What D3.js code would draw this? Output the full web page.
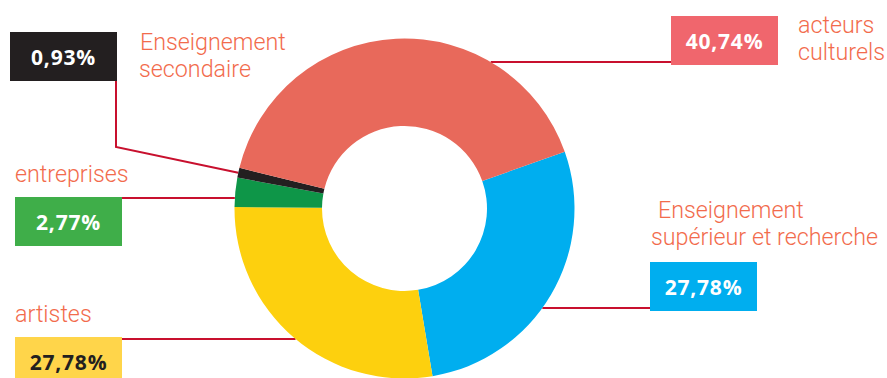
<!DOCTYPE html>
<html>
<head>
<meta charset="utf-8">
<script src="https://cdn.jsdelivr.net/npm/d3@7"></script>
<style>
  body { margin: 0; background: #fff; }
  svg { display: block; }
</style>
</head>
<body>
<div></div>
<script>
// data, clockwise from the red/blue border
var categories = ["Enseignement supérieur et recherche", "artistes", "entreprises", "Enseignement secondaire", "acteurs culturels"];
var values = [27.78, 27.78, 2.77, 0.93, 40.74];
var valueLabels = ["27,78%", "27,78%", "2,77%", "0,93%", "40,74%"];
var labelLines = [["Enseignement", "supérieur et recherche"], ["artistes"], ["entreprises"], ["Enseignement", "secondaire"], ["acteurs", "culturels"]];

var sliceColors = ["#00aeef", "#fdd00e", "#0e9648", "#231f20", "#e8695b"];
var boxColors = ["#00aeef", "#ffd54a", "#3fae49", "#231f20", "#f0666d"];
var boxText = ["#fff", "#231f20", "#fff", "#fff", "#fff"];

var width = 887;
var height = 378;
var cx = 404.5, cy = 208.5;
var outerR = 170, innerR = 82.5;

var svg = d3.select("body").select("div")
  .append("svg")
  .attr("width", width)
  .attr("height", height);

var pie = d3.pie().sort(null).value(function(d) { return d; })
  .startAngle(70.5 * Math.PI / 180)
  .endAngle(70.5 * Math.PI / 180 + 2 * Math.PI);
var arcs = pie(values);
var arc = d3.arc().innerRadius(innerR).outerRadius(outerR);

// where a horizontal line at y meets the outer ring
function edgeX(y, side) {
  var dy = y - cy;
  return cx + side * Math.sqrt(outerR * outerR - dy * dy);
}
function edgePoint(a) {
  var m = (a.startAngle + a.endAngle) / 2;
  return [cx + outerR * Math.sin(m), cy - outerR * Math.cos(m)];
}

// layout of boxes / labels (box x,y ; label x, first baseline ; line y)
var layout = [
  { bx: 650, by: 262, lx: [658, 651], ly: 218, line: 308, side: 1 },
  { bx: 15, by: 337, lx: [15], ly: 322, line: 339, side: -1 },
  { bx: 15, by: 197, lx: [15], ly: 182, line: 198, side: -1 },
  { bx: 10, by: 32, lx: [140, 139], ly: 50, line: null, side: -1 },
  { bx: 671, by: 16, lx: [798, 798], ly: 33, line: 62, side: 1 }
];
var boxW = 107, boxH = 49;

var lines = svg.append("g")
  .attr("fill", "none")
  .attr("stroke", "#c8102e")
  .attr("stroke-width", 2);

arcs.forEach(function(a, i) {
  var l = layout[i];
  if (l.line !== null) {
    var x0 = edgeX(l.line, l.side);
    var x1 = l.side > 0 ? l.bx : l.bx + boxW;
    lines.append("line")
      .attr("x1", x0).attr("y1", l.line)
      .attr("x2", x1).attr("y2", l.line);
  } else {
    var p = edgePoint(a);
    var bxm = l.bx + boxW - 1;
    lines.append("polyline")
      .attr("points", [[bxm, l.by + boxH], [bxm, 147], p].join(" "));
  }
});

// donut
svg.append("g")
  .attr("transform", "translate(" + cx + "," + cy + ")")
  .selectAll("path")
  .data(arcs)
  .enter()
  .append("path")
  .attr("d", arc)
  .attr("fill", function(d, i) { return sliceColors[i]; });

// value boxes
var boxes = svg.append("g").selectAll("g")
  .data(arcs)
  .enter()
  .append("g")
  .attr("transform", function(d, i) { return "translate(" + layout[i].bx + "," + layout[i].by + ")"; });

boxes.append("rect")
  .attr("width", boxW)
  .attr("height", boxH)
  .attr("fill", function(d, i) { return boxColors[i]; });

boxes.append("text")
  .attr("x", boxW / 2)
  .attr("y", boxH / 2 + 8)
  .attr("text-anchor", "middle")
  .style("font-family", "'Open Sans', sans-serif")
  .style("font-weight", 700)
  .style("font-size", "21px")
  .style("letter-spacing", "0.8px")
  .attr("fill", function(d, i) { return boxText[i]; })
  .text(function(d, i) { return valueLabels[i]; });

// category labels (condensed look)
var sx = 0.97;
labelLines.forEach(function(ls, i) {
  var l = layout[i];
  ls.forEach(function(t, j) {
    svg.append("text")
      .attr("transform", "translate(" + l.lx[j] + "," + (l.ly + j * 27) + ") scale(" + sx + ",1)")
      .style("font-family", "Roboto, sans-serif")
      .style("font-weight", 300)
      .style("font-size", "24px")
      .attr("fill", "#f26b4c")
      .text(t);
  });
});
</script>
</body>
</html>
